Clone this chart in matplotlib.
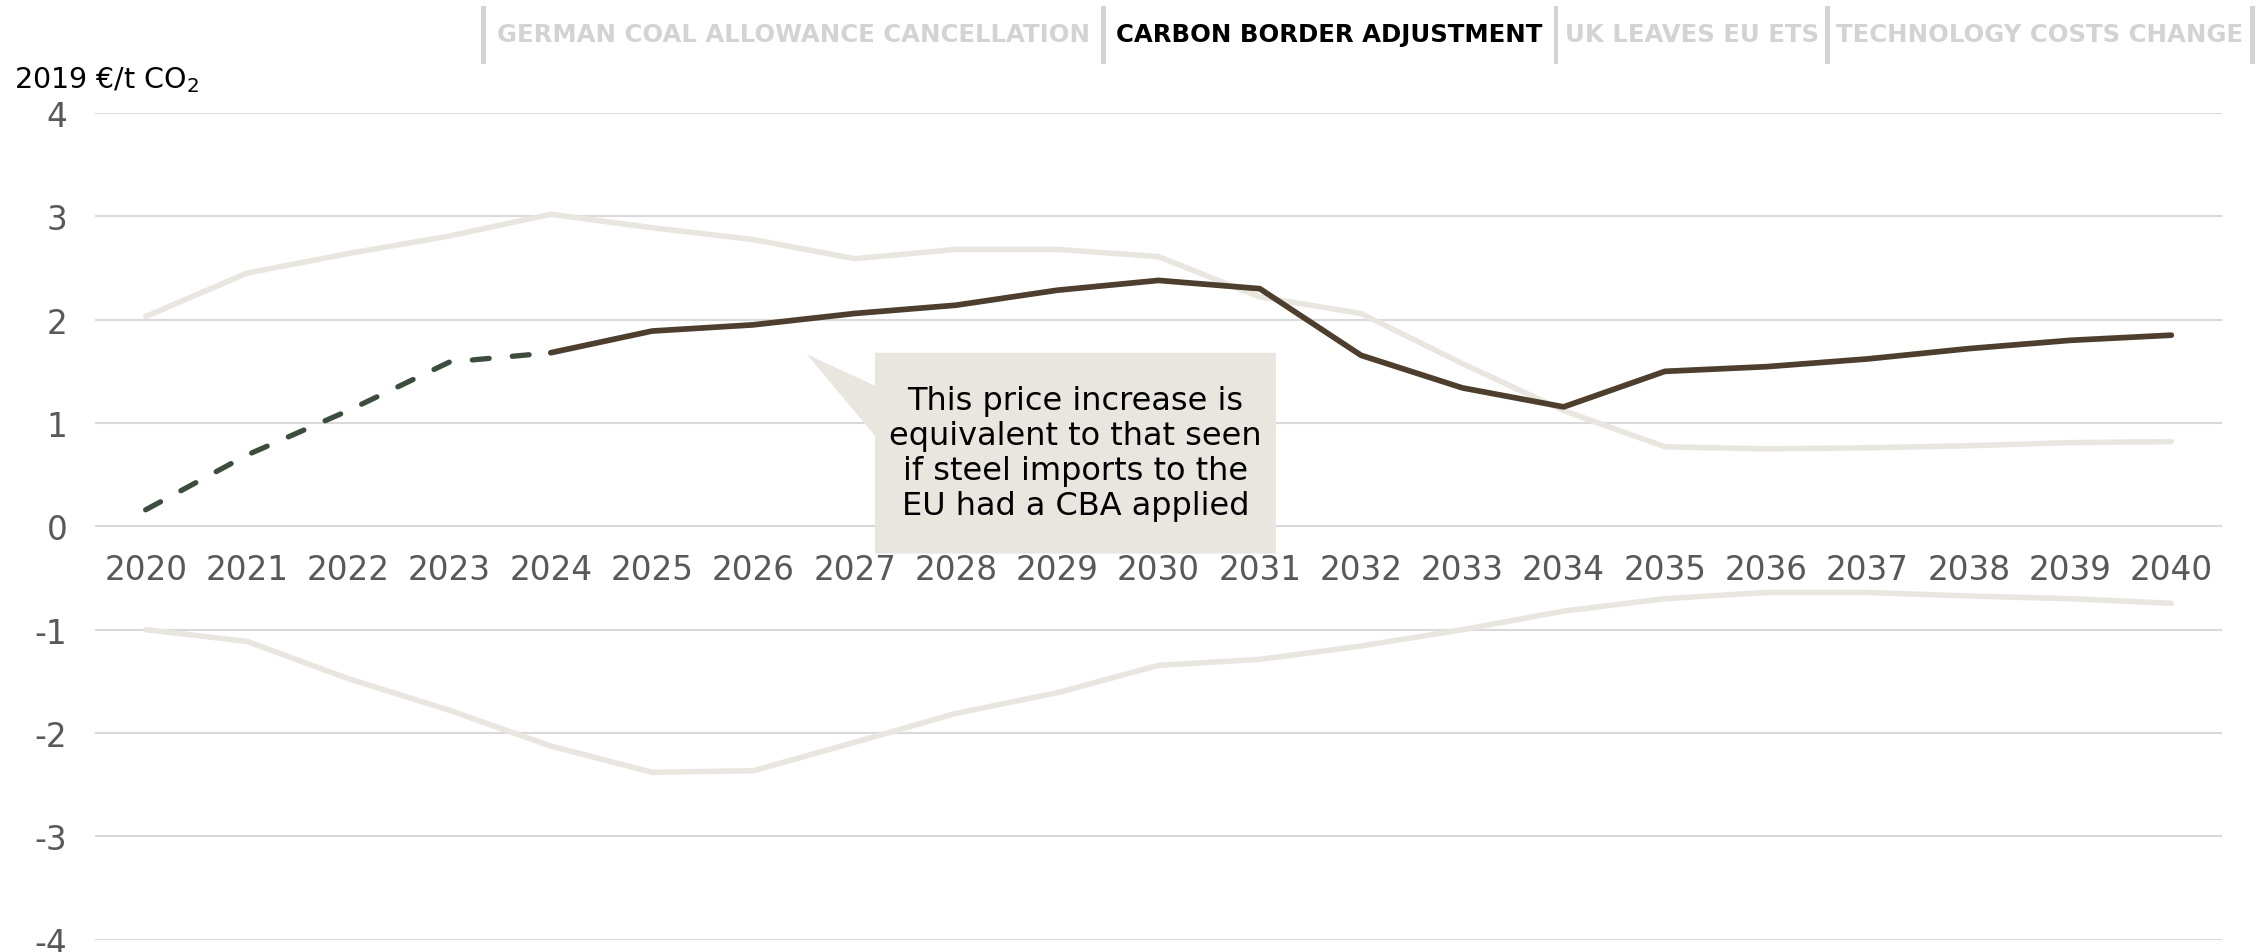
import matplotlib
matplotlib.use("Agg")
import matplotlib.pyplot as plt
from matplotlib.patches import Polygon, Rectangle

# ---- data -------------------------------------------------------------
years = list(range(2020, 2041))

# carbon border adjustment impact on the EU ETS price (2019 EUR/t CO2)
cba_impact = [0.16, 0.69, 1.12, 1.59, 1.68, 1.89, 1.95, 2.06, 2.14, 2.285,
              2.38, 2.30, 1.655, 1.34, 1.156, 1.50, 1.545, 1.62, 1.72, 1.80,
              1.85]
# first years are shown dashed (up to and including this year)
dashed_until = 2024

# other scenarios, shown in the background
background_upper = [2.03, 2.45, 2.64, 2.81, 3.02, 2.89, 2.775, 2.59, 2.68,
                    2.68, 2.61, 2.22, 2.06, 1.575, 1.12, 0.77, 0.75, 0.76,
                    0.78, 0.81, 0.82]
background_lower = [-1.0, -1.113, -1.474, -1.78, -2.126, -2.38, -2.365, -2.09,
                    -1.81, -1.61, -1.345, -1.287, -1.158, -1.0, -0.82, -0.70,
                    -0.64, -0.64, -0.674, -0.70, -0.745]

y_ticks = [-4, -3, -2, -1, 0, 1, 2, 3, 4]
y_label = "2019 €/t CO$_2$"

tabs = ["GERMAN COAL ALLOWANCE CANCELLATION", "CARBON BORDER ADJUSTMENT",
        "UK LEAVES EU ETS", "TECHNOLOGY COSTS CHANGE"]
active_tab = "CARBON BORDER ADJUSTMENT"

note = ("This price increase is\nequivalent to that seen\n"
        "if steel imports to the\nEU had a CBA applied")

# ---- style -------------------------------------------------------------
BROWN = "#4d3e2e"
GREEN = "#3c4d3d"
LIGHT = "#e9e6e0"
GRID = "#d9d9d9"
TICK = "#595959"
TAB_OFF = "#d3d3d3"

plt.rcParams["font.family"] = ["DejaVu Sans"]

W, H = 2260, 953
fig = plt.figure(figsize=(W / 100, H / 100), dpi=100)
ax = fig.add_axes([95 / W, (H - 940.7) / H, (2222 - 95) / W, (940.7 - 114) / H])

ax.set_xlim(2019.5, 2040.5)
ax.set_ylim(-4, 4)

for s in ax.spines.values():
    s.set_visible(False)
ax.spines["bottom"].set_position(("data", 0))

ax.set_yticks(y_ticks)
ax.set_yticklabels([str(v) for v in y_ticks])
ax.set_xticks(years)
ax.set_xticklabels([str(y) for y in years])
ax.tick_params(axis="both", length=0, labelsize=23.5, labelcolor=TICK)
ax.tick_params(axis="y", pad=20)
ax.tick_params(axis="x", pad=19)

ax.yaxis.grid(True, color=GRID, linewidth=1.5, zorder=0)
ax.set_axisbelow(True)

# background scenarios
ax.plot(years, background_upper, color=LIGHT, linewidth=4.0,
        solid_capstyle="round", solid_joinstyle="round", zorder=2)
ax.plot(years, background_lower, color=LIGHT, linewidth=4.0,
        solid_capstyle="round", solid_joinstyle="round", zorder=2)

# highlighted scenario: dashed early years, solid afterwards
k = years.index(dashed_until)
ax.plot(years[:k + 1], cba_impact[:k + 1], color=GREEN, linewidth=3.8,
        linestyle=(0, (3.2, 4.4)), dash_capstyle="round", zorder=4)
ax.plot(years[k:], cba_impact[k:], color=BROWN, linewidth=4.1,
        solid_capstyle="round", solid_joinstyle="round", zorder=5)

# callout box with pointer
bx0, bx1, by0, by1 = 2027.2, 2031.16, -0.264, 1.68
tip = (2026.53, 1.662)
callout = Polygon([(bx0, by1), (bx1, by1), (bx1, by0), (bx0, by0),
                   (bx0, 0.878), tip, (bx0, 1.362)],
                  closed=True, facecolor=LIGHT, edgecolor="none", zorder=3)
ax.add_patch(callout)
ax.text((bx0 + bx1) / 2, (by0 + by1) / 2, note, ha="center", va="center",
        fontsize=23, color="black", linespacing=1.16, zorder=6)

# unit label
fig.text(14 / W, 1 - 80 / H, y_label, ha="left", va="center", fontsize=20.5,
         color="black")

# scenario tabs
bars_x = [483, 1102, 1555, 1827, 2251]
for xpos in bars_x:
    fig.add_artist(Rectangle((xpos / W - 1.5 / W, 1 - 65 / H), 5 / W, 58 / H,
                             transform=fig.transFigure, facecolor=TAB_OFF,
                             edgecolor="none"))
for i, name in enumerate(tabs):
    cx = (bars_x[i] + bars_x[i + 1]) / 2 + 1
    fig.text(cx / W, 1 - 35 / H, name, ha="center", va="center",
             fontsize=17.6, fontweight="bold",
             color="black" if name == active_tab else TAB_OFF)

fig.savefig("out.png", dpi=100, facecolor="white")
